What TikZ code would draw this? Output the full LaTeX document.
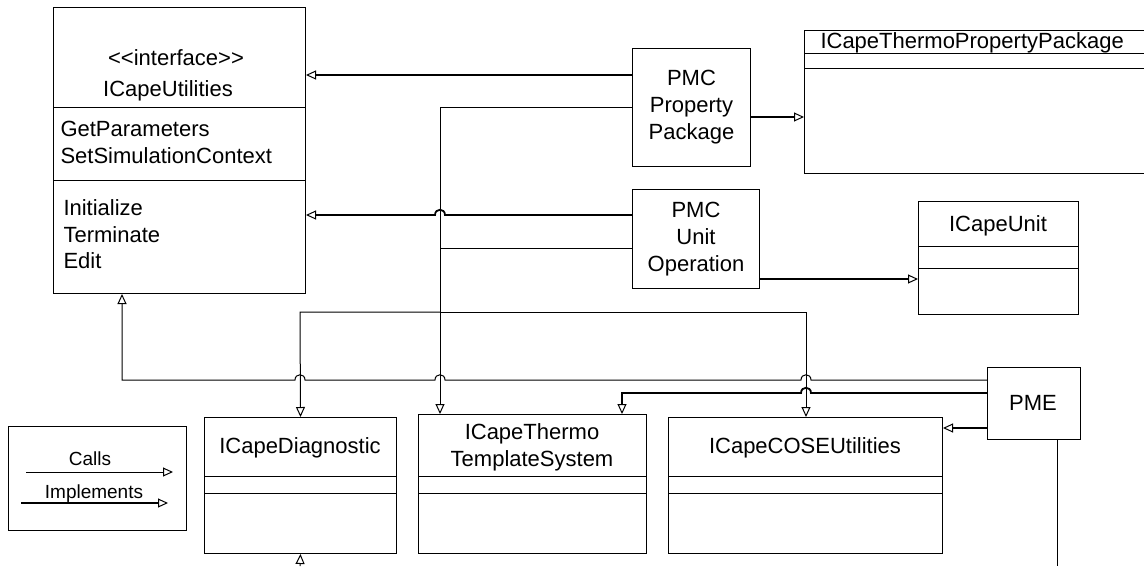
\documentclass[tikz,border=0pt]{standalone}
\usepackage{fontspec}
\setmainfont{Liberation Sans}
\usetikzlibrary{positioning,shapes,arrows.meta}

\begin{document}
\begin{tikzpicture}[%
        x=1pt, y=-1pt,
        line width=1pt,
        calls/.style={%
          -{Triangle[open,length=10pt,width=9pt,line width=1pt]}
        },
        impl/.style={%
          -{Triangle[open,length=10pt,width=9pt,line width=1pt]},
          line width=1.8pt
        },
        classbox/.style={%
          rectangle,
          draw,
          anchor=north west,
          inner sep=0pt
        },
        txt/.style={font=\fontsize{22}{27}\selectfont, inner sep=0pt},
        small/.style={font=\fontsize{19}{23}\selectfont, inner sep=0pt}
      ]
      \useasboundingbox (0,0) rectangle (1144,566);

      % interface box
      \node[classbox, minimum width=252pt, minimum height=286pt] (utils) at (53,7) {};
      \node[txt, anchor=base] (stereo) at (176,65) {<{}<interface>{}>};
      \node[txt, anchor=base] (utilsT) at (168,96) {ICapeUtilities};
      \draw (utils.west |- 0,107) -- (utils.east |- 0,107);
      \draw (utils.west |- 0,180) -- (utils.east |- 0,180);
      \node[txt, anchor=base west] (m1) at (60,136) {GetParameters};
      \node[txt, anchor=base west] (m2) at (60,163) {SetSimulationContext};
      \node[txt, anchor=base west] (m3) at (63,215) {Initialize};
      \node[txt, anchor=base west] (m4) at (63,242) {Terminate};
      \node[txt, anchor=base west] (m5) at (63,268) {Edit};

      % components
      \node[classbox, minimum width=118pt, minimum height=118pt] (pmcpp) at (632,48) {};
      \node[txt, align=center] (pmcppT) at (pmcpp.center) {PMC\\Property\\Package};
      \node[classbox, minimum width=127pt, minimum height=99pt] (pmcuo) at (632,189) {};
      \node[txt, align=center] (pmcuoT) at (pmcuo.center) {PMC\\Unit\\Operation};
      \node[classbox, minimum width=93pt, minimum height=72pt] (pme) at (987,367) {};
      \node[txt, anchor=base] (pmeT) at (1033,410) {PME};

      % classes
      \node[classbox, minimum width=339.5pt, minimum height=143pt] (tpp) at (804,30) {};
      \node[txt, anchor=base west] (tppT) at (820,48) {ICapeThermoPropertyPackage};
      \draw (tpp.west |- 0,53) -- (tpp.east |- 0,53);
      \draw (tpp.west |- 0,68) -- (tpp.east |- 0,68);

      \node[classbox, minimum width=160pt, minimum height=113pt] (unit) at (918,201) {};
      \node[txt, anchor=base] (unitT) at (998,231) {ICapeUnit};
      \draw (unit.west |- 0,246) -- (unit.east |- 0,246);
      \draw (unit.west |- 0,268) -- (unit.east |- 0,268);

      \node[classbox, minimum width=192pt, minimum height=136pt] (diag) at (204,417) {};
      \node[txt, anchor=base] (diagT) at (300,453) {ICapeDiagnostic};
      \draw (diag.west |- 0,476) -- (diag.east |- 0,476);
      \draw (diag.west |- 0,493) -- (diag.east |- 0,493);

      \node[classbox, minimum width=228pt, minimum height=139pt] (thermots) at (418,414) {};
      \node[txt, align=center] (thermotsT) at (532,447) {ICapeThermo\\TemplateSystem};
      \draw (thermots.west |- 0,476) -- (thermots.east |- 0,476);
      \draw (thermots.west |- 0,493) -- (thermots.east |- 0,493);

      \node[classbox, minimum width=274pt, minimum height=136pt] (cose) at (668,417) {};
      \node[txt, anchor=base] (coseT) at (805,453) {ICapeCOSEUtilities};
      \draw (cose.west |- 0,476) -- (cose.east |- 0,476);
      \draw (cose.west |- 0,493) -- (cose.east |- 0,493);

      % legend
      \node[classbox, minimum width=178pt, minimum height=104pt] (legend) at (8,426) {};
      \node[small, anchor=base] (callsT) at (90,465) {Calls};
      \node[small, anchor=base] (implT) at (94,498) {Implements};
      \coordinate (c1) at (26,472);
      \coordinate (c2) at (173,472);
      \coordinate (i1) at (21,503);
      \coordinate (i2) at (168,503);
      \draw[calls] (c1) -- (c2);
      \draw[impl] (i1) -- (i2);

      % connectors
      \draw[impl] (pmcpp.west |- 0,75) -- (utils.east |- 0,75);
      \draw[impl] (pmcuo.west |- 0,215) -- (445,215)
        .. controls (445,208) and (435,208) .. (435,215) -- (utils.east |- 0,215);
      \draw[impl] (pmcpp.east |- 0,117) -- (tpp.west |- 0,117);
      \draw[impl] (pmcuo.east |- 0,279) -- (unit.west |- 0,279);

      \draw[calls] (pmcpp.west |- 0,107) -- (440,107) -- (thermots.north -| 440,0);
      \draw (pmcuo.west |- 0,248) -- (440,248);
      \draw[calls] (440,312) -- (300,312) -- (diag.north);
      \draw[calls] (440,312) -- (806,312) -- (cose.north -| 806,0);

      \draw[calls] (pme.west |- 0,380) -- (811,380)
        .. controls (811,373) and (801,373) .. (801,380) -- (445,380)
        .. controls (445,373) and (435,373) .. (435,380) -- (305,380)
        .. controls (305,373) and (295,373) .. (295,380) -- (122,380)
        -- (utils.south -| 122,0);
      \draw[impl] (pme.west |- 0,393) -- (811,393)
        .. controls (811,386) and (801,386) .. (801,393) -- (622,393)
        -- (thermots.north -| 622,0);
      \draw[impl] (pme.west |- 0,428) -- (cose.east |- 0,428);
      \draw (pme.south -| 1057,0) -- (1057,566);
      \draw[calls] (300,566) -- (diag.south);

  \end{tikzpicture}
\end{document}
